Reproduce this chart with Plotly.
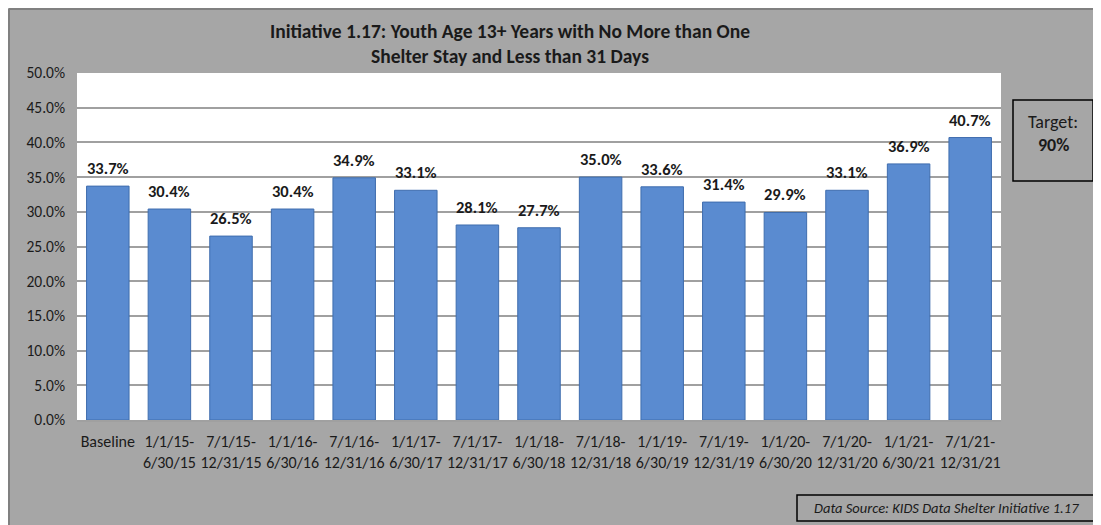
import plotly.graph_objects as go

categories = ["Baseline", "1/1/15-<br>6/30/15", "7/1/15-<br>12/31/15", "1/1/16-<br>6/30/16",
              "7/1/16-<br>12/31/16", "1/1/17-<br>6/30/17", "7/1/17-<br>12/31/17", "1/1/18-<br>6/30/18",
              "7/1/18-<br>12/31/18", "1/1/19-<br>6/30/19", "7/1/19-<br>12/31/19", "1/1/20-<br>6/30/20",
              "7/1/20-<br>12/31/20", "1/1/21-<br>6/30/21", "7/1/21-<br>12/31/21"]
values = [33.7, 30.4, 26.5, 30.4, 34.9, 33.1, 28.1, 27.7, 35.0, 33.6, 31.4, 29.9, 33.1, 36.9, 40.7]
title_text = "Initiative 1.17: Youth Age 13+ Years with No More than One<br>Shelter Stay and Less than 31 Days"
target_label = "Target:"
target_value = "90%"
source_text = "Data Source: KIDS Data Shelter Initiative 1.17"

FONT = "Carlito, Lato, sans-serif"
GRAY = "#A6A6A6"
TXT = "#1a1a1a"

fig = go.Figure()
fig.add_trace(go.Bar(
    x=categories, y=values,
    marker=dict(color="#5A8BD0", line=dict(color="#3F6DAE", width=1)),
    hoverinfo="x+y",
))

# reference-pixel -> paper helpers (plot area in reference: x 77..1001, y 73..420)
PL, PR, PT, PB = 77, 1001, 73, 420

def px(x):
    return (x - PL) / float(PR - PL)

def py(y):
    return (PB - y) / float(PB - PT)

# data labels anchored on the bar tops through the axes
annotations = [
    dict(x=c, y=v, xref="x", yref="y", text=f"<b>{v:.1f}%</b>", showarrow=False,
         yanchor="bottom", yshift=6, font=dict(family=FONT, size=16.5, color=TXT))
    for c, v in zip(categories, values)
]

shapes = [
    dict(type="line", xref="paper", yref="paper", x0=px(9), x1=px(9), y0=py(9), y1=py(540),
         line=dict(color="#808080", width=2)),
    dict(type="line", xref="paper", yref="paper", x0=px(9), x1=px(1120), y0=py(9), y1=py(9),
         line=dict(color="#808080", width=2)),
    # target box
    dict(type="rect", xref="paper", yref="paper", x0=px(1013), x1=px(1093), y0=py(181), y1=py(100),
         line=dict(color="#000000", width=1.5), fillcolor="rgba(0,0,0,0)"),
    # data source box
    dict(type="rect", xref="paper", yref="paper", x0=px(797), x1=px(1095), y0=py(521), y1=py(495),
         line=dict(color="#000000", width=1.5), fillcolor="rgba(0,0,0,0)"),
]

annotations += [
    dict(text=f"<b>{title_text}</b>", xref="paper", yref="paper", x=px(510), y=py(43),
         showarrow=False, font=dict(family=FONT, size=19.5, color=TXT), align="center",
         xanchor="center", yanchor="middle"),
    dict(text=target_label, xref="paper", yref="paper", x=px(1053), y=py(122), showarrow=False,
         font=dict(family=FONT, size=18, color=TXT), xanchor="center", yanchor="middle"),
    dict(text=f"<b>{target_value}</b>", xref="paper", yref="paper", x=px(1053), y=py(145), showarrow=False,
         font=dict(family=FONT, size=18, color=TXT), xanchor="center", yanchor="middle"),
    dict(text=f"<i>{source_text}</i>", xref="paper", yref="paper", x=px(946), y=py(508), showarrow=False,
         font=dict(family=FONT, size=14.5, color=TXT), xanchor="center", yanchor="middle"),
]

# page body has an 8px margin, so the figure is 8px smaller and shifted
W, H = 1093, 517
fig.update_layout(
    width=W, height=H,
    margin=dict(l=PL - 8, r=W - (PR - 8), t=PT - 8, b=H - (PB - 8), autoexpand=False),
    paper_bgcolor=GRAY, plot_bgcolor="white",
    showlegend=False, bargap=0.31,
    shapes=shapes, annotations=annotations,
    font=dict(family=FONT, size=16, color=TXT),
)
fig.update_yaxes(range=[0, 50], dtick=5, tickformat=".1f", ticksuffix="%",
                 gridcolor="#A0A0A0", gridwidth=2, zeroline=False, showline=False,
                 tickfont=dict(family=FONT, size=15.5, color=TXT), ticks="",
                 ticklabelstandoff=11, automargin=False)
fig.update_xaxes(showline=True, linecolor="#A0A0A0", linewidth=2,
                 tickfont=dict(family=FONT, size=16, color=TXT), ticks="", tickangle=0,
                 ticklabelstandoff=6, automargin=False)

fig.write_html("out.html")
